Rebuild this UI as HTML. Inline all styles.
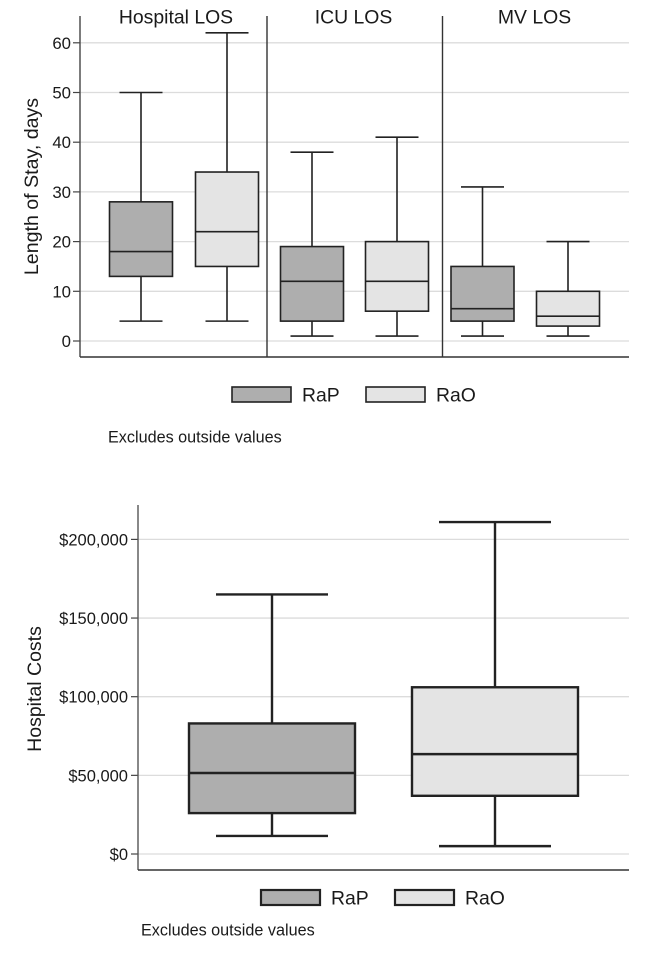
<!DOCTYPE html>
<html>
<head>
<meta charset="utf-8">
<style>
html,body{margin:0;padding:0;background:#fff;}
svg{display:block;font-family:"Liberation Sans",Arial,sans-serif;fill:#1a1a1a;}
</style>
</head>
<body>
<svg id="figure" width="646" height="959" viewBox="0 0 646 959" xmlns="http://www.w3.org/2000/svg">
<rect width="646" height="959" fill="#fff"/>
<g id="top"></g>
<g id="bottom"></g>
</svg>
<script>
const losTicks = [0, 10, 20, 30, 40, 50, 60];
const losPanels = ['Hospital LOS', 'ICU LOS', 'MV LOS'];
const losRaPLow = [4, 1, 1];
const losRaPQ1 = [13, 4, 4];
const losRaPMedian = [18, 12, 6.5];
const losRaPQ3 = [28, 19, 15];
const losRaPHigh = [50, 38, 31];
const losRaOLow = [4, 1, 1];
const losRaOQ1 = [15, 6, 3];
const losRaOMedian = [22, 12, 5];
const losRaOQ3 = [34, 20, 10];
const losRaOHigh = [62, 41, 20];

const costTicks = [0, 50000, 100000, 150000, 200000];
const costGroups = ['RaP', 'RaO'];
const costLow = [11500, 5000];
const costQ1 = [26000, 37000];
const costMedian = [51500, 63500];
const costQ3 = [83000, 106000];
const costHigh = [165000, 211000];

const NS = 'http://www.w3.org/2000/svg';
const RAP_FILL = '#aeaeae';
const RAO_FILL = '#e4e4e4';
const INK = '#222';

function add(parent, tag, attrs, txt) {
  const el = document.createElementNS(NS, tag);
  for (const k in attrs) el.setAttribute(k, attrs[k]);
  if (txt !== undefined) el.textContent = txt;
  parent.appendChild(el);
  return el;
}

function drawBox(parent, name, cx, halfW, capHalf, lo, q1, med, q3, hi, fill, sw, y) {
  const g = add(parent, 'g', {});
  
  
  const stroke = { stroke: INK, 'stroke-width': sw };
  add(g, 'line', { x1: cx, x2: cx, y1: y(hi), y2: y(q3), ...stroke });
  add(g, 'line', { x1: cx, x2: cx, y1: y(q1), y2: y(lo), ...stroke });
  add(g, 'line', { x1: cx - capHalf, x2: cx + capHalf, y1: y(hi), y2: y(hi), ...stroke });
  add(g, 'line', { x1: cx - capHalf, x2: cx + capHalf, y1: y(lo), y2: y(lo), ...stroke });
  add(g, 'rect', { x: cx - halfW, y: y(q3), width: halfW * 2, height: y(q1) - y(q3), fill: fill, ...stroke });
  add(g, 'line', { x1: cx - halfW, x2: cx + halfW, y1: y(med), y2: y(med), ...stroke });
}

function drawLegend(parent, x1, x2, yTop, sw) {
  const items = [[x1, RAP_FILL, 'RaP'], [x2, RAO_FILL, 'RaO']];
  items.forEach(function (it) {
    const g = add(parent, 'g', {});
    
    
    add(g, 'rect', { x: it[0], y: yTop, width: 59, height: 15, fill: it[1], stroke: INK, 'stroke-width': sw });
    add(g, 'text', { x: it[0] + 70, y: yTop + 14.5, 'font-size': 19.4 }, it[2]);
  });
}

/* ---------- top chart ---------- */
(function () {
  const root = document.getElementById('top');
  const y = function (v) { return 341 - v * 4.97; };
  const xAxis = 80, xEnd = 629, yBottom = 357, yTop = 16;
  const panelLeft = [80, 267, 442.5];
  const offsets = [[61, 147], [45, 130], [40, 125.5]];

  losTicks.forEach(function (t) {
    const grid = add(root, 'line', { x1: xAxis, x2: xEnd, y1: y(t), y2: y(t), stroke: '#dcdcdc', 'stroke-width': 1.3 });
    
    
    const tick = add(root, 'line', { x1: xAxis - 7, x2: xAxis, y1: y(t), y2: y(t), stroke: '#444', 'stroke-width': 1.2 });
    
    
    const label = add(root, 'text', { x: xAxis - 9, y: y(t) + 6, 'font-size': 16.8, 'text-anchor': 'end' }, String(t));
    
    
  });

  const ya = add(root, 'line', { x1: xAxis, x2: xAxis, y1: yTop, y2: yBottom, stroke: '#444', 'stroke-width': 1.4 });
  
  
  const xa = add(root, 'line', { x1: xAxis, x2: xEnd, y1: yBottom, y2: yBottom, stroke: '#333', 'stroke-width': 1.4 });
  
  

  [1, 2].forEach(function (i) {
    const d = add(root, 'line', { x1: panelLeft[i], x2: panelLeft[i], y1: yTop, y2: yBottom, stroke: '#333', 'stroke-width': 1.4 });
    
    
  });

  const titleX = [176, 353.5, 534.5];
  losPanels.forEach(function (p, i) {
    const t = add(root, 'text', { x: titleX[i], y: 23.5, 'font-size': 19.4, 'text-anchor': 'middle' }, p);
    
    
    drawBox(root, 'box-' + p.toLowerCase().replace(' ', '-') + '-rap', panelLeft[i] + offsets[i][0], 31.5, 21.5,
      losRaPLow[i], losRaPQ1[i], losRaPMedian[i], losRaPQ3[i], losRaPHigh[i], RAP_FILL, 1.6, y);
    drawBox(root, 'box-' + p.toLowerCase().replace(' ', '-') + '-rao', panelLeft[i] + offsets[i][1], 31.5, 21.5,
      losRaOLow[i], losRaOQ1[i], losRaOMedian[i], losRaOQ3[i], losRaOHigh[i], RAO_FILL, 1.6, y);
  });

  const yt = add(root, 'text', { transform: 'translate(38 186.5) rotate(-90)', 'font-size': 19.6, 'text-anchor': 'middle' }, 'Length of Stay, days');
  
  

  const lg = add(root, 'g', {});
  
  
  drawLegend(lg, 232, 366, 387, 1.6);

  const note = add(root, 'text', { x: 108, y: 442.5, 'font-size': 16.2 }, 'Excludes outside values');
  
  
})();

/* ---------- bottom chart ---------- */
(function () {
  const root = document.getElementById('bottom');
  const y = function (v) { return 854 - v * 0.001573; };
  const xAxis = 138, xEnd = 629, yBottom = 870, yTop = 505;
  const centers = [272, 495];

  costTicks.forEach(function (t) {
    const grid = add(root, 'line', { x1: xAxis, x2: xEnd, y1: y(t), y2: y(t), stroke: '#dcdcdc', 'stroke-width': 1.3 });
    
    
    const tick = add(root, 'line', { x1: xAxis - 7, x2: xAxis, y1: y(t), y2: y(t), stroke: '#444', 'stroke-width': 1.2 });
    
    
    const label = add(root, 'text', { x: xAxis - 10, y: y(t) + 6, 'font-size': 16.5, 'text-anchor': 'end' }, '$' + t.toLocaleString('en-US'));
    
    
  });

  const ya = add(root, 'line', { x1: xAxis, x2: xAxis, y1: yTop, y2: yBottom, stroke: '#555', 'stroke-width': 1.4 });
  
  
  const xa = add(root, 'line', { x1: xAxis, x2: xEnd, y1: yBottom, y2: yBottom, stroke: '#333', 'stroke-width': 1.4 });
  
  

  costGroups.forEach(function (g, i) {
    drawBox(root, 'box-cost-' + g.toLowerCase(), centers[i], 83, 56,
      costLow[i], costQ1[i], costMedian[i], costQ3[i], costHigh[i], i === 0 ? RAP_FILL : RAO_FILL, 2.4, y);
  });

  const yt = add(root, 'text', { transform: 'translate(41 689) rotate(-90)', 'font-size': 19.5, 'text-anchor': 'middle' }, 'Hospital Costs');
  
  

  const lg = add(root, 'g', {});
  
  
  drawLegend(lg, 261, 395, 890, 2.2);

  const note = add(root, 'text', { x: 141, y: 935.5, 'font-size': 16.2 }, 'Excludes outside values');
  
  
})();
</script>
</body>
</html>
